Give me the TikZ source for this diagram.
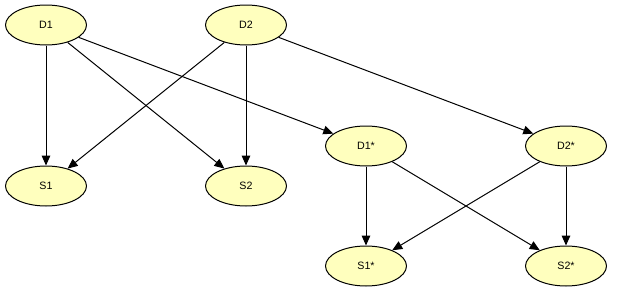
\documentclass[tikz,border=0pt]{standalone}
\usepackage{fontspec}
\setmainfont{Liberation Sans}
\usetikzlibrary{shapes.geometric,arrows.meta}
\definecolor{nodefill}{RGB}{255,255,190}
\begin{document}
\begin{tikzpicture}[x=0.75pt, y=-0.75pt, line join=round, >={Triangle[length=7.5pt, width=6.5pt]}, font=\fontsize{8pt}{9pt}\selectfont,
	var/.style={ellipse, draw=black, fill=nodefill, line width=0.75pt, minimum width=60.75pt, minimum height=30pt, inner sep=0pt},
	edge/.style={->, line width=0.75pt}]

				\useasboundingbox (0,0) rectangle (629,304);
				% Hàng trên: D1, D2
				\node[var] (D1) at (46, 25) {D1};
				\node[var] (D2) at (246, 25) {D2};
				% Hàng giữa: S1, S2, D1*, D2*
				\node[var] (S1) at (46, 186) {S1};
				\node[var] (S2) at (246, 186) {S2};
				\node[var] (D1s) at (366, 146) {D1*};
				\node[var] (D2s) at (566, 146) {D2*};
				% Hàng dưới: S1*, S2*
				\node[var] (S1s) at (366, 266) {S1*};
				\node[var] (S2s) at (566, 266) {S2*};
				% Các mũi tên
				\foreach \from/\to in {D1/S1, D1/S2, D1/D1s, D2/S1, D2/S2, D2/D2s, D1s/S1s, D1s/S2s, D2s/S1s, D2s/S2s} {
					\draw[edge] (\from) -- (\to);
				}

			\end{tikzpicture}
\end{document}
